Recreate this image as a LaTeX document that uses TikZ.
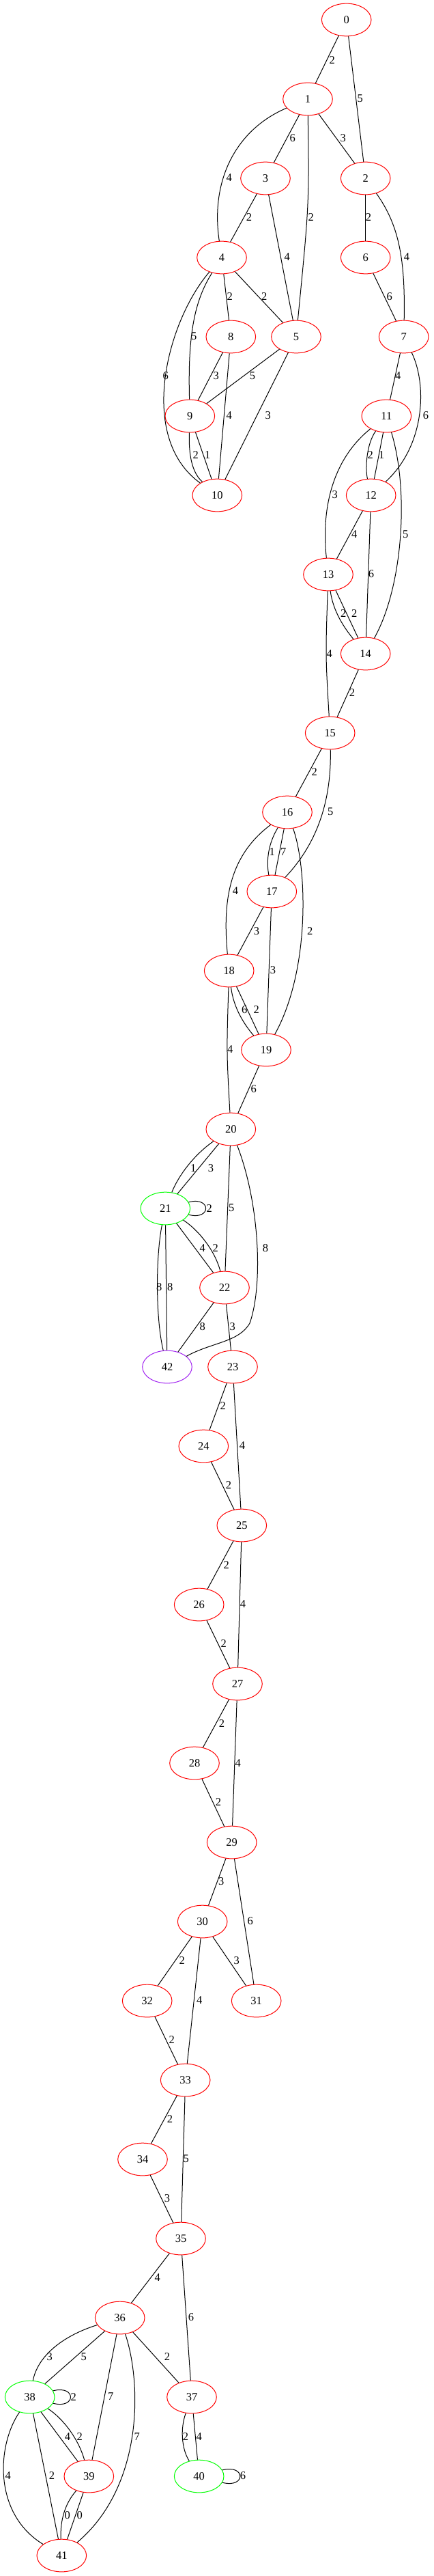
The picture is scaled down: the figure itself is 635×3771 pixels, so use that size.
\documentclass[tikz,border=0pt]{standalone}
\usepackage{fontspec}
\setmainfont{Liberation Serif}
\usetikzlibrary{shapes.geometric}
\definecolor{gvred}{HTML}{FF0000}
\definecolor{gvgreen}{HTML}{00FF00}
\definecolor{gvpurple}{HTML}{A020F0}

\begin{document}
\begin{tikzpicture}[x=1pt,y=-1pt,line width=1pt,
 main node/.style={ellipse,draw=gvred,minimum width=72.6pt,minimum height=47.7pt,
   inner sep=0pt,font=\fontsize{16.5}{18}\selectfont},
 start node/.style={main node,draw=gvgreen},
 end node/.style={main node,draw=gvpurple},
 weight/.style={inner sep=0pt,font=\fontsize{16.5}{18}\selectfont}]

  \useasboundingbox (0,0) rectangle (635,3771);

  \node[main node] (n0) at (507.7,29) {0};
  \node[main node] (n1) at (451,145) {1};
  \node[main node] (n3) at (389,261) {3};
  \node[main node] (n2) at (535.7,261) {2};
  \node[main node] (n4) at (325,377) {4};
  \node[main node] (n6) at (535.7,377) {6};
  \node[main node] (n8) at (338.3,493) {8};
  \node[main node] (n5) at (434,493) {5};
  \node[main node] (n7) at (591.7,493) {7};
  \node[main node] (n9) at (278.3,609) {9};
  \node[main node] (n11) at (566.3,609) {11};
  \node[main node] (n10) at (318.3,725) {10};
  \node[main node] (n12) at (543.7,725) {12};
  \node[main node] (n13) at (481,841) {13};
  \node[main node] (n14) at (535.7,957) {14};
  \node[main node] (n15) at (483.7,1073) {15};
  \node[main node] (n16) at (421,1189) {16};
  \node[main node] (n17) at (398.3,1305) {17};
  \node[main node] (n18) at (335.7,1421) {18};
  \node[main node] (n19) at (390,1537) {19};
  \node[main node] (n20) at (338.3,1653) {20};
  \node[start node] (n21) at (242.3,1769) {21};
  \node[main node] (n22) at (329,1885) {22};
  \node[end node] (n42) at (245,2001) {42};
  \node[main node] (n23) at (341,2001) {23};
  \node[main node] (n24) at (298.3,2117) {24};
  \node[main node] (n25) at (354.3,2233) {25};
  \node[main node] (n26) at (291.7,2349) {26};
  \node[main node] (n27) at (348,2465) {27};
  \node[main node] (n28) at (285,2581) {28};
  \node[main node] (n29) at (339.7,2697) {29};
  \node[main node] (n30) at (296.7,2813) {30};
  \node[main node] (n32) at (215.7,2929) {32};
  \node[main node] (n31) at (375.7,2929) {31};
  \node[main node] (n33) at (271.7,3045) {33};
  \node[main node] (n34) at (209,3161) {34};
  \node[main node] (n35) at (265,3277) {35};
  \node[main node] (n36) at (175.7,3393) {36};
  \node[start node] (n38) at (43.7,3509) {38};
  \node[main node] (n37) at (281,3509) {37};
  \node[main node] (n39) at (130.3,3625) {39};
  \node[start node] (n40) at (291.7,3625) {40};
  \node[main node] (n41) at (90.3,3741) {41};

  % straight edges
  \path (n0) edge (n1) edge (n2)
        (n1) edge (n3) edge (n2)
        (n3) edge (n4) edge (n5)
        (n2) edge (n6)
        (n6) edge (n7)
        (n4) edge (n8) edge (n5)
        (n8) edge (n9) edge (n10)
        (n5) edge (n9) edge (n10)
        (n9) edge (n10)
        (n7) edge (n11)
        (n11) edge (n12)
        (n12) edge (n13) edge (n14)
        (n13) edge (n14)
        (n14) edge (n15)
        (n15) edge (n16)
        (n16) edge (n17)
        (n17) edge (n18) edge (n19)
        (n18) edge (n19)
        (n19) edge (n20)
        (n20) edge (n21) edge (n22)
        (n21) edge (n22) edge (n42)
        (n22) edge (n42) edge (n23)
        (n23) edge (n24) edge (n25)
        (n24) edge (n25)
        (n25) edge (n26) edge (n27)
        (n26) edge (n27)
        (n27) edge (n28) edge (n29)
        (n28) edge (n29)
        (n29) edge (n30) edge (n31)
        (n30) edge (n32) edge (n31) edge (n33)
        (n32) edge (n33)
        (n33) edge (n34) edge (n35)
        (n34) edge (n35)
        (n35) edge (n36) edge (n37)
        (n36) edge (n38) edge (n39) edge (n37)
        (n38) edge (n39) edge (n41)
        (n39) edge (n41)
        (n37) edge (n40);

  % curved edges
  \draw (n1) .. controls (345,190) and (308,265) .. (n4);
  \draw (n1) .. controls (453,300) .. (n5);
  \draw (n2) .. controls (585,330) and (594,380) .. (n7);
  \draw (n4) .. controls (285,440) and (275,490) .. (n9);
  \draw (n4) .. controls (245,470) and (200,640) .. (n10);
  \draw (n9) .. controls (276,675) and (285,695) .. (n10);
  \draw (n7) .. controls (625,560) and (625,650) .. (n12);
  \draw (n11) .. controls (537,650) and (535,685) .. (n12);
  \draw (n11) .. controls (490,670) and (470,740) .. (n13);
  \draw (n11) .. controls (600,720) and (590,860) .. (n14);
  \draw (n13) .. controls (488,895) and (505,920) .. (n14);
  \draw (n13) .. controls (477,960) .. (n15);
  \draw (n15) .. controls (486,1180) and (460,1240) .. (n17);
  \draw (n16) .. controls (393,1235) and (390,1260) .. (n17);
  \draw (n16) .. controls (340,1250) and (325,1310) .. (n18);
  \draw (n16) .. controls (450,1270) and (455,1420) .. (n19);
  \draw (n18) .. controls (342,1475) and (358,1500) .. (n19);
  \draw (n18) .. controls (332,1540) .. (n20);
  \draw (n20) .. controls (285,1690) and (262,1720) .. (n21);
  \draw (n20) .. controls (380,1760) and (386,1880) .. (366,1937)
              .. controls (350,1965) and (310,1965) .. (n42);
  \draw (n21.15) .. controls (310,1751) and (310,1787) .. (n21.-15);
  \draw (n21) .. controls (290,1800) and (315,1830) .. (n22);
  \draw (n21) .. controls (228,1840) and (228,1930) .. (n42);
  \draw (n36) .. controls (90,3420) and (55,3450) .. (n38);
  \draw (n36) .. controls (208,3490) and (210,3640) .. (n41);
  \draw (n38.15) .. controls (112,3491) and (112,3527) .. (n38.-15);
  \draw (n38) .. controls (92,3540) and (115,3570) .. (n39);
  \draw (n38) .. controls (-5,3580) and (-10,3680) .. (n41);
  \draw (n39) .. controls (95,3665) and (88,3690) .. (n41);
  \draw (n37) .. controls (264,3555) and (266,3585) .. (n40);
  \draw (n40.15) .. controls (360.5,3607) and (360.5,3643) .. (n40.-15);

  % weights
  \foreach \x/\y/\w [count=\i] in {
    486.7/87.7/2, 527.7/144.3/5, 428.7/201.7/6, 502.7/201.7/3,
    335.7/260/4, 365/318.3/2, 455.7/318.3/2, 540/318.3/2,
    420.7/376/4, 596/376/4, 284.3/492.3/5, 336.7/434/2,
    387.3/434/2, 570.7/434/6, 242.7/550/6, 316.7/550/3,
    370/550/5, 583.3/550/4, 335.7/608.3/4, 392.7/608.3/3,
    624/608.3/6, 286.7/666/2, 304.3/666/1, 542.7/666/2,
    559.3/666/1, 490.7/724/3, 519.3/781.7/4, 594.3/781.7/5,
    544/840/6, 503.3/898.3/2, 519.3/898.3/2, 482.7/956.7/4,
    516/1014.3/2, 460.7/1130/2, 484.3/1188.3/5, 398.7/1246.7/1,
    415.3/1246.7/7, 345/1304.3/4, 454.3/1362.7/2, 376/1362.7/3,
    400/1420/3, 358.3/1478.3/6, 375.7/1478.3/2, 337.3/1536/4,
    371.7/1594/6, 283.3/1710/1, 309/1710/3, 339.3/1768.3/5,
    306.7/1768.7/2, 389/1826.7/8, 296.7/1826.7/4, 315.7/1826.7/2,
    233.3/1884/8, 249.3/1884/8, 296.7/1941.7/8, 340.7/1941.7/3,
    326.7/2058.3/2, 355/2116/4, 335/2174/2, 331.7/2290.7/2,
    356/2348.3/4, 327.7/2406/2, 325/2522.7/2, 348.7/2580.7/4,
    320/2638.3/2, 324.3/2754/3, 366.7/2812.3/6, 266.7/2870/2,
    346.7/2870/3, 292.3/2928.3/4, 251.7/2986/2, 249/3102.3/2,
    272.7/3160/5, 245/3217.7/3, 230.7/3334.3/4, 280/3392.3/6,
    72.7/3450/3, 122.7/3450/5, 245/3450/2, 162.3/3508.3/7,
    107.7/3508.7/2, 200.7/3566.7/7, 99/3566.7/4, 116.7/3566.7/2,
    272/3566.7/2, 291.7/3566.7/4, 11.7/3624.3/4, 76/3624.3/2,
    356/3624.3/6, 98.7/3681.7/0, 116.7/3681.7/0}
    \node[weight] (w\i) at (\x,\y) {\w};
\end{tikzpicture}
\end{document}
